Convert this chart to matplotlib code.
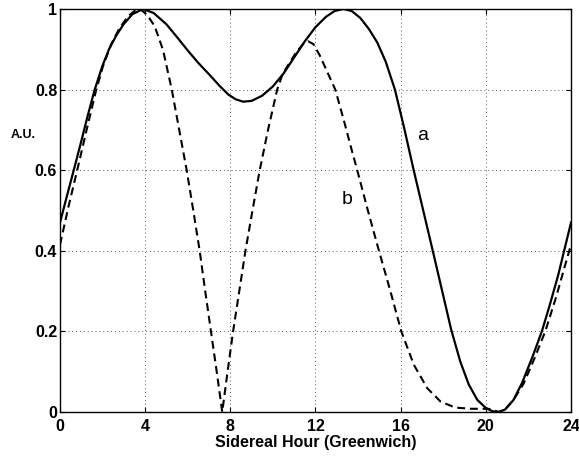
import matplotlib
matplotlib.use("Agg")
import matplotlib.pyplot as plt

# Curve a (solid)
a_x = [0, 0.33, 0.66, 1.0, 1.3, 1.63, 2.0, 2.3, 2.65, 3.0,
       3.4, 3.9, 4.4, 5.0, 5.5, 6.0, 6.5, 7.0, 7.5, 7.9,
       8.25, 8.6, 9.0, 9.5, 10.0, 10.5, 11.0, 11.5, 12.0, 12.5,
       12.9, 13.3, 13.7, 14.1, 14.5, 14.9, 15.3, 15.73, 16.15, 16.59,
       17.06, 17.53, 17.95, 18.37, 18.8, 19.2, 19.6, 20.0, 20.3, 20.6,
       20.9, 21.3, 21.7, 22.2, 22.63, 23.0, 23.4, 23.7, 24.0]
a_y = [0.47, 0.537, 0.603, 0.672, 0.735, 0.80, 0.86, 0.90, 0.935, 0.963,
       0.987, 1.0, 0.99, 0.962, 0.93, 0.897, 0.866, 0.838, 0.809, 0.788,
       0.776, 0.770, 0.772, 0.785, 0.808, 0.84, 0.88, 0.92, 0.955, 0.981,
       0.995, 1.0, 0.995, 0.978, 0.951, 0.917, 0.869, 0.80, 0.708, 0.605,
       0.50, 0.395, 0.30, 0.205, 0.125, 0.068, 0.03, 0.01, 0.002, 0.0,
       0.006, 0.03, 0.072, 0.138, 0.20, 0.265, 0.34, 0.405, 0.47]

# Curve b (dashed)
b_x = [0, 0.4, 0.83, 1.25, 1.68, 2.0, 2.4, 2.8, 3.2, 3.5,
       3.77, 4.1, 4.45, 4.84, 5.25, 5.6, 5.95, 6.26, 6.56, 6.82,
       7.09, 7.36, 7.62, 7.87, 8.13, 8.42, 8.71, 9.04, 9.38, 9.77,
       10.2, 10.45, 10.8, 11.1, 11.4, 11.65, 11.9, 12.2, 12.5, 12.93,
       13.35, 13.65, 13.96, 14.46, 14.98, 15.48, 16.03, 16.62, 17.25, 17.87,
       18.56, 19.3, 20.1, 20.4, 20.6, 20.9, 21.3, 21.77, 22.3, 22.79,
       23.3, 23.7, 24.0]
b_y = [0.415, 0.51, 0.605, 0.70, 0.795, 0.855, 0.912, 0.953, 0.982, 0.995,
       1.0, 0.985, 0.957, 0.898, 0.80, 0.70, 0.60, 0.50, 0.40, 0.30,
       0.20, 0.10, 0.0, 0.10, 0.20, 0.30, 0.40, 0.50, 0.60, 0.70,
       0.80, 0.838, 0.868, 0.893, 0.912, 0.92, 0.913, 0.885, 0.85, 0.80,
       0.72, 0.66, 0.60, 0.50, 0.40, 0.307, 0.20, 0.117, 0.059, 0.026,
       0.011, 0.008, 0.008, 0.004, 0.0, 0.006, 0.03, 0.07, 0.135, 0.20,
       0.285, 0.36, 0.415]

x_ticks = [0, 4, 8, 12, 16, 20, 24]
y_ticks = [0, 0.2, 0.4, 0.6, 0.8, 1.0]
y_ticklabels = ["0", "0.2", "0.4", "0.6", "0.8", "1"]

plt.rcParams['font.family'] = ['Liberation Sans', 'DejaVu Sans']

fig = plt.figure(figsize=(5.79, 4.57), dpi=100)
ax = fig.add_axes([60/579, 1 - 412/457, (571 - 60)/579, (412 - 9)/457])

ax.plot(a_x, a_y, color='black', lw=1.6, solid_joinstyle='round')
ax.plot(b_x, b_y, color='black', lw=1.5, linestyle=(0, (3.8, 2.3)))

ax.set_xlim(0, 24)
ax.set_ylim(0, 1)
ax.set_xticks(x_ticks)
ax.set_xticklabels([str(t) for t in x_ticks])
ax.set_yticks(y_ticks)
ax.set_yticklabels(y_ticklabels)
ax.grid(True, linestyle=(0, (1, 3)), color='0.35', lw=0.7)
ax.tick_params(direction='in', top=True, right=True, length=3.5, width=0.8,
               labelsize=11.5)
ax.tick_params(axis='x', pad=5)
ax.tick_params(axis='y', pad=2)
for lbl in ax.get_xticklabels() + ax.get_yticklabels():
    lbl.set_fontweight('bold')
for s in ax.spines.values():
    s.set_linewidth(1.0)

fig.text(316/579, 1 - 442/457, "Sidereal Hour (Greenwich)", fontsize=11.5,
         fontweight='bold', ha='center', va='center')
fig.text(23/579, 1 - 135/457, "A.U.", fontsize=9, fontweight='bold',
         ha='center', va='center')

ax.text(17.04, 0.674, "a", fontsize=14, ha='center', va='baseline')
ax.text(13.47, 0.515, "b", fontsize=14, ha='center', va='baseline')

fig.savefig("out.png", dpi=100)
